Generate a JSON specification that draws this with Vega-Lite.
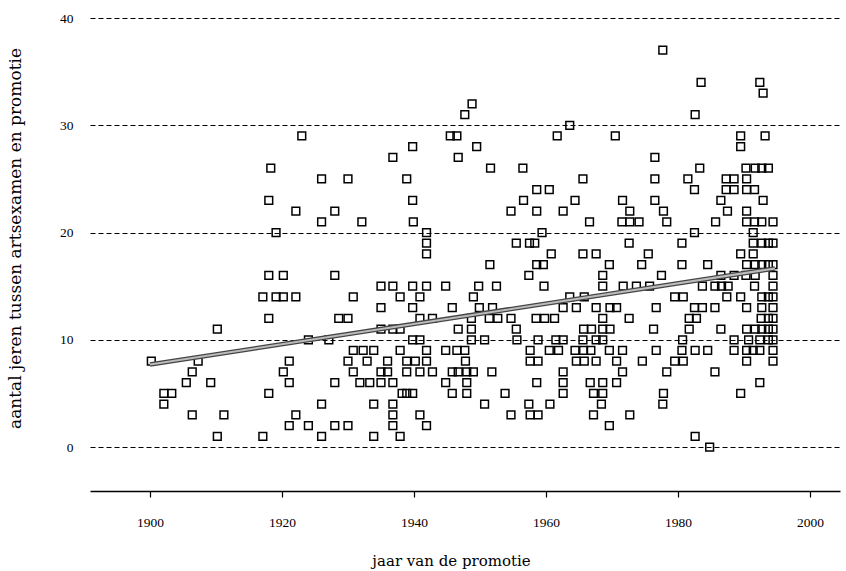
{
"$schema": "https://vega.github.io/schema/vega-lite/v6.json",
"width": 750, "height": 473,
"autosize": {"type": "none"},
"padding": {"left": 90, "top": 18, "right": 6, "bottom": 80},
"background": "white",
"config": {"view": {"stroke": null}, "font": "Liberation Serif"},
"datasets": {
"fit": [{"jaar": 1900.0, "jaren": 7.7}, {"jaar": 1994.7, "jaren": 16.65}],
"points": [
{"jaar":1900.2,"jaren":8},{"jaar":1902.1,"jaren":5},{"jaar":1903.3,"jaren":5},{"jaar":1902.1,"jaren":4},{"jaar":1905.5,"jaren":6},{"jaar":1906.4,"jaren":7},{"jaar":1907.3,"jaren":8},{"jaar":1909.2,"jaren":6},{"jaar":1906.4,"jaren":3},{"jaar":1911.2,"jaren":3},{"jaar":1910.2,"jaren":1},{"jaar":1910.2,"jaren":11},
{"jaar":1923.0,"jaren":29},{"jaar":1918.3,"jaren":26},{"jaar":1926.0,"jaren":25},{"jaar":1930.0,"jaren":25},{"jaar":1918.0,"jaren":23},{"jaar":1922.1,"jaren":22},{"jaar":1928.0,"jaren":22},{"jaar":1926.0,"jaren":21},{"jaar":1919.1,"jaren":20},
{"jaar":1918.0,"jaren":16},{"jaar":1920.2,"jaren":16},{"jaar":1928.0,"jaren":16},{"jaar":1917.1,"jaren":14},{"jaar":1919.1,"jaren":14},{"jaar":1920.2,"jaren":14},{"jaar":1922.1,"jaren":14},{"jaar":1930.8,"jaren":14},{"jaar":1918.0,"jaren":12},{"jaar":1928.6,"jaren":12},{"jaar":1930.0,"jaren":12},{"jaar":1924.0,"jaren":10},{"jaar":1927.1,"jaren":10},{"jaar":1930.8,"jaren":9},{"jaar":1930.0,"jaren":8},{"jaar":1930.8,"jaren":7},{"jaar":1921.1,"jaren":8},{"jaar":1920.2,"jaren":7},{"jaar":1921.1,"jaren":6},{"jaar":1928.0,"jaren":6},{"jaar":1918.0,"jaren":5},{"jaar":1926.0,"jaren":4},{"jaar":1922.1,"jaren":3},{"jaar":1921.1,"jaren":2},{"jaar":1924.0,"jaren":2},{"jaar":1928.0,"jaren":2},{"jaar":1930.0,"jaren":2},{"jaar":1917.1,"jaren":1},{"jaar":1926.0,"jaren":1},
{"jaar":1945.5,"jaren":29},{"jaar":1946.5,"jaren":29},{"jaar":1939.8,"jaren":28},{"jaar":1936.8,"jaren":27},{"jaar":1946.7,"jaren":27},{"jaar":1938.9,"jaren":25},{"jaar":1939.8,"jaren":23},{"jaar":1932.1,"jaren":21},{"jaar":1939.9,"jaren":21},{"jaar":1941.9,"jaren":20},{"jaar":1941.9,"jaren":19},{"jaar":1941.9,"jaren":18},
{"jaar":1935.0,"jaren":15},{"jaar":1936.8,"jaren":15},{"jaar":1939.8,"jaren":15},{"jaar":1941.9,"jaren":15},{"jaar":1944.8,"jaren":15},{"jaar":1937.9,"jaren":14},{"jaar":1940.9,"jaren":14},{"jaar":1935.0,"jaren":13},{"jaar":1939.8,"jaren":13},{"jaar":1945.8,"jaren":13},{"jaar":1940.9,"jaren":12},{"jaar":1942.8,"jaren":12},{"jaar":1935.0,"jaren":11},{"jaar":1936.8,"jaren":11},{"jaar":1937.9,"jaren":11},{"jaar":1939.8,"jaren":10},{"jaar":1940.9,"jaren":10},{"jaar":1932.3,"jaren":9},{"jaar":1933.9,"jaren":9},{"jaar":1937.9,"jaren":9},{"jaar":1941.9,"jaren":9},{"jaar":1944.8,"jaren":9},{"jaar":1946.5,"jaren":9},{"jaar":1932.9,"jaren":8},{"jaar":1936.0,"jaren":8},{"jaar":1938.9,"jaren":8},{"jaar":1940.2,"jaren":8},{"jaar":1941.9,"jaren":8},{"jaar":1935.0,"jaren":7},{"jaar":1936.0,"jaren":7},{"jaar":1938.9,"jaren":7},{"jaar":1940.9,"jaren":7},{"jaar":1942.8,"jaren":7},{"jaar":1945.8,"jaren":7},{"jaar":1931.8,"jaren":6},{"jaar":1933.3,"jaren":6},{"jaar":1935.0,"jaren":6},{"jaar":1936.8,"jaren":6},{"jaar":1944.8,"jaren":6},{"jaar":1938.2,"jaren":5},{"jaar":1938.9,"jaren":5},{"jaar":1939.8,"jaren":5},{"jaar":1945.8,"jaren":5},{"jaar":1933.9,"jaren":4},{"jaar":1936.8,"jaren":4},{"jaar":1936.8,"jaren":3},{"jaar":1940.9,"jaren":3},{"jaar":1936.8,"jaren":2},{"jaar":1941.9,"jaren":2},{"jaar":1933.9,"jaren":1},{"jaar":1937.9,"jaren":1},
{"jaar":1948.8,"jaren":32},{"jaar":1947.7,"jaren":31},{"jaar":1961.7,"jaren":29},{"jaar":1949.5,"jaren":28},{"jaar":1951.6,"jaren":26},{"jaar":1956.5,"jaren":26},{"jaar":1958.6,"jaren":24},{"jaar":1960.5,"jaren":24},{"jaar":1956.6,"jaren":23},{"jaar":1954.7,"jaren":22},{"jaar":1958.6,"jaren":22},{"jaar":1959.4,"jaren":20},{"jaar":1955.5,"jaren":19},{"jaar":1957.5,"jaren":19},{"jaar":1958.3,"jaren":19},
{"jaar":1960.8,"jaren":18},{"jaar":1951.5,"jaren":17},{"jaar":1958.6,"jaren":17},{"jaar":1959.6,"jaren":17},{"jaar":1957.4,"jaren":16},{"jaar":1949.8,"jaren":15},{"jaar":1952.5,"jaren":15},{"jaar":1959.7,"jaren":15},{"jaar":1949.0,"jaren":14},{"jaar":1949.9,"jaren":13},{"jaar":1951.9,"jaren":13},{"jaar":1948.7,"jaren":12},{"jaar":1951.4,"jaren":12},{"jaar":1952.7,"jaren":12},{"jaar":1954.7,"jaren":12},{"jaar":1958.5,"jaren":12},{"jaar":1959.8,"jaren":12},{"jaar":1961.3,"jaren":12},{"jaar":1946.7,"jaren":11},{"jaar":1948.7,"jaren":11},{"jaar":1955.5,"jaren":11},{"jaar":1948.7,"jaren":10},{"jaar":1950.7,"jaren":10},{"jaar":1955.6,"jaren":10},{"jaar":1958.8,"jaren":10},{"jaar":1961.5,"jaren":10},{"jaar":1947.7,"jaren":9},{"jaar":1957.6,"jaren":9},{"jaar":1960.5,"jaren":9},{"jaar":1961.9,"jaren":9},{"jaar":1947.8,"jaren":8},{"jaar":1957.6,"jaren":8},{"jaar":1958.8,"jaren":8},{"jaar":1946.7,"jaren":7},{"jaar":1948.0,"jaren":7},{"jaar":1949.0,"jaren":7},{"jaar":1951.8,"jaren":7},{"jaar":1948.0,"jaren":6},{"jaar":1958.6,"jaren":6},{"jaar":1948.0,"jaren":5},{"jaar":1953.8,"jaren":5},{"jaar":1950.7,"jaren":4},{"jaar":1957.4,"jaren":4},{"jaar":1960.6,"jaren":4},{"jaar":1954.7,"jaren":3},{"jaar":1957.6,"jaren":3},{"jaar":1958.8,"jaren":3},
{"jaar":1977.7,"jaren":37},{"jaar":1963.6,"jaren":30},{"jaar":1962.6,"jaren":22},{"jaar":1970.5,"jaren":29},{"jaar":1976.5,"jaren":27},{"jaar":1965.6,"jaren":25},{"jaar":1976.5,"jaren":25},{"jaar":1964.4,"jaren":23},{"jaar":1971.6,"jaren":23},{"jaar":1976.5,"jaren":23},{"jaar":1972.7,"jaren":22},{"jaar":1977.8,"jaren":22},{"jaar":1966.6,"jaren":21},{"jaar":1971.5,"jaren":21},{"jaar":1972.7,"jaren":21},{"jaar":1974.1,"jaren":21},{"jaar":1978.3,"jaren":21},{"jaar":1972.6,"jaren":19},
{"jaar":1965.6,"jaren":18},{"jaar":1967.6,"jaren":18},{"jaar":1975.5,"jaren":18},{"jaar":1969.6,"jaren":17},{"jaar":1974.5,"jaren":17},{"jaar":1968.6,"jaren":16},{"jaar":1977.5,"jaren":16},{"jaar":1968.6,"jaren":15},{"jaar":1971.7,"jaren":15},{"jaar":1973.7,"jaren":15},{"jaar":1975.7,"jaren":15},{"jaar":1963.6,"jaren":14},{"jaar":1965.8,"jaren":14},{"jaar":1962.6,"jaren":13},{"jaar":1964.6,"jaren":13},{"jaar":1967.6,"jaren":13},{"jaar":1969.7,"jaren":13},{"jaar":1970.7,"jaren":13},{"jaar":1976.7,"jaren":13},{"jaar":1968.6,"jaren":12},{"jaar":1972.6,"jaren":12},{"jaar":1965.7,"jaren":11},{"jaar":1966.9,"jaren":11},{"jaar":1968.6,"jaren":11},{"jaar":1969.7,"jaren":11},{"jaar":1976.3,"jaren":11},{"jaar":1962.6,"jaren":10},{"jaar":1965.6,"jaren":10},{"jaar":1967.6,"jaren":10},{"jaar":1968.6,"jaren":10},{"jaar":1964.4,"jaren":9},{"jaar":1965.7,"jaren":9},{"jaar":1966.8,"jaren":9},{"jaar":1969.6,"jaren":9},{"jaar":1971.6,"jaren":9},{"jaar":1976.7,"jaren":9},{"jaar":1964.6,"jaren":8},{"jaar":1965.8,"jaren":8},{"jaar":1967.6,"jaren":8},{"jaar":1970.7,"jaren":8},{"jaar":1974.6,"jaren":8},{"jaar":1962.6,"jaren":7},{"jaar":1971.6,"jaren":7},{"jaar":1978.3,"jaren":7},{"jaar":1962.6,"jaren":6},{"jaar":1966.7,"jaren":6},{"jaar":1968.6,"jaren":6},{"jaar":1970.7,"jaren":6},{"jaar":1962.6,"jaren":5},{"jaar":1967.2,"jaren":5},{"jaar":1968.6,"jaren":5},{"jaar":1977.8,"jaren":5},{"jaar":1968.4,"jaren":4},{"jaar":1977.7,"jaren":4},{"jaar":1967.2,"jaren":3},{"jaar":1972.7,"jaren":3},{"jaar":1969.6,"jaren":2},
{"jaar":1983.5,"jaren":34},{"jaar":1992.4,"jaren":34},{"jaar":1992.9,"jaren":33},{"jaar":1982.6,"jaren":31},{"jaar":1989.5,"jaren":29},{"jaar":1993.2,"jaren":29},{"jaar":1989.5,"jaren":28},{"jaar":1983.3,"jaren":26},{"jaar":1990.3,"jaren":26},{"jaar":1991.7,"jaren":26},{"jaar":1992.7,"jaren":26},{"jaar":1981.5,"jaren":25},{"jaar":1987.3,"jaren":25},{"jaar":1988.5,"jaren":25},{"jaar":1990.4,"jaren":25},{"jaar":1982.5,"jaren":24},{"jaar":1987.3,"jaren":24},{"jaar":1988.5,"jaren":24},{"jaar":1990.4,"jaren":24},{"jaar":1991.6,"jaren":24},{"jaar":1986.5,"jaren":23},{"jaar":1992.9,"jaren":23},{"jaar":1987.5,"jaren":22},{"jaar":1990.4,"jaren":22},{"jaar":1985.7,"jaren":21},{"jaar":1990.4,"jaren":21},{"jaar":1991.6,"jaren":21},{"jaar":1992.7,"jaren":21},{"jaar":1982.5,"jaren":20},{"jaar":1991.4,"jaren":20},{"jaar":1980.6,"jaren":19},{"jaar":1991.4,"jaren":19},{"jaar":1992.7,"jaren":19},
{"jaar":1989.5,"jaren":18},{"jaar":1991.4,"jaren":18},{"jaar":1980.6,"jaren":17},{"jaar":1984.5,"jaren":17},{"jaar":1990.4,"jaren":17},{"jaar":1991.7,"jaren":17},{"jaar":1992.7,"jaren":17},{"jaar":1986.5,"jaren":16},{"jaar":1988.5,"jaren":16},{"jaar":1990.3,"jaren":16},{"jaar":1991.7,"jaren":16},{"jaar":1983.7,"jaren":15},{"jaar":1985.6,"jaren":15},{"jaar":1986.6,"jaren":15},{"jaar":1987.6,"jaren":15},{"jaar":1991.6,"jaren":15},{"jaar":1979.5,"jaren":14},{"jaar":1980.8,"jaren":14},{"jaar":1987.4,"jaren":14},{"jaar":1989.5,"jaren":14},{"jaar":1992.7,"jaren":14},{"jaar":1982.5,"jaren":13},{"jaar":1983.7,"jaren":13},{"jaar":1985.6,"jaren":13},{"jaar":1990.4,"jaren":13},{"jaar":1992.7,"jaren":13},{"jaar":1981.7,"jaren":12},{"jaar":1982.8,"jaren":12},{"jaar":1992.6,"jaren":12},{"jaar":1981.7,"jaren":11},{"jaar":1986.5,"jaren":11},{"jaar":1990.4,"jaren":11},{"jaar":1991.7,"jaren":11},{"jaar":1992.7,"jaren":11},{"jaar":1980.7,"jaren":10},{"jaar":1988.5,"jaren":10},{"jaar":1990.7,"jaren":10},{"jaar":1992.4,"jaren":10},{"jaar":1980.6,"jaren":9},{"jaar":1982.6,"jaren":9},{"jaar":1984.5,"jaren":9},{"jaar":1988.5,"jaren":9},{"jaar":1990.4,"jaren":9},{"jaar":1991.4,"jaren":9},{"jaar":1992.4,"jaren":9},{"jaar":1979.5,"jaren":8},{"jaar":1980.8,"jaren":8},{"jaar":1990.4,"jaren":8},{"jaar":1985.6,"jaren":7},{"jaar":1992.4,"jaren":6},{"jaar":1989.5,"jaren":5},{"jaar":1982.6,"jaren":1},{"jaar":1984.8,"jaren":0},
{"jaar":1993.7,"jaren":26},{"jaar":1994.4,"jaren":21},{"jaar":1993.7,"jaren":19},{"jaar":1994.4,"jaren":19},{"jaar":1993.7,"jaren":17},{"jaar":1994.4,"jaren":17},{"jaar":1994.4,"jaren":16},{"jaar":1994.4,"jaren":15},{"jaar":1993.7,"jaren":14},{"jaar":1994.4,"jaren":14},{"jaar":1994.4,"jaren":13},{"jaar":1993.7,"jaren":12},{"jaar":1994.4,"jaren":12},{"jaar":1993.7,"jaren":11},{"jaar":1994.4,"jaren":11},{"jaar":1994.4,"jaren":10},{"jaar":1993.7,"jaren":10},{"jaar":1994.4,"jaren":9},{"jaar":1994.4,"jaren":8}
]
},
"encoding": {
  "x": {"field": "jaar", "type": "quantitative",
        "scale": {"domain": [1890.91, 2004.55], "nice": false, "zero": false},
        "axis": {"values": [1900, 1920, 1940, 1960, 1980, 2000], "format": "d", "grid": false,
                 "domainColor": "black", "domainWidth": 1.5, "tickColor": "black", "tickWidth": 1.2, "tickSize": 6,
                 "labelPadding": 18, "labelFontSize": 13.5, "labelColor": "black", "labelFont": "Liberation Serif",
                 "title": "jaar van de promotie", "titleFont": "DejaVu Serif", "titleFontSize": 15, "titleFontWeight": "normal",
                 "titleColor": "black", "titleX": 361, "titleY": 69, "titleBaseline": "middle", "titleAlign": "center"}},
  "y": {"field": "jaren", "type": "quantitative",
        "scale": {"domain": [-4.1, 40], "nice": false, "zero": false},
        "axis": {"values": [0, 10, 20, 30, 40], "grid": true, "gridDash": [5, 3], "gridColor": "black", "gridWidth": 1.2, "gridOpacity": 1,
                 "domain": false, "ticks": false, "labelPadding": 17, "labelFontSize": 13.5, "labelColor": "black", "labelFont": "Liberation Serif",
                 "title": "aantal jeren tussen artsexamen en promotie", "titleFont": "DejaVu Serif", "titleFontSize": 17, "titleFontWeight": "normal",
                 "titleColor": "black", "titleAngle": -90, "titleX": -75, "titleY": 220, "titleBaseline": "middle", "titleAlign": "center"}}
},
"layer": [
  {"data": {"name": "points"},
   "mark": {"type": "point", "shape": "square", "filled": false, "size": 60, "stroke": "black", "strokeWidth": 1.5, "opacity": 1}},
  {"data": {"name": "fit"}, "mark": {"type": "line", "stroke": "#444444", "strokeWidth": 4.5}},
  {"data": {"name": "fit"}, "mark": {"type": "line", "stroke": "#bbbbbb", "strokeWidth": 2}}
]
}
